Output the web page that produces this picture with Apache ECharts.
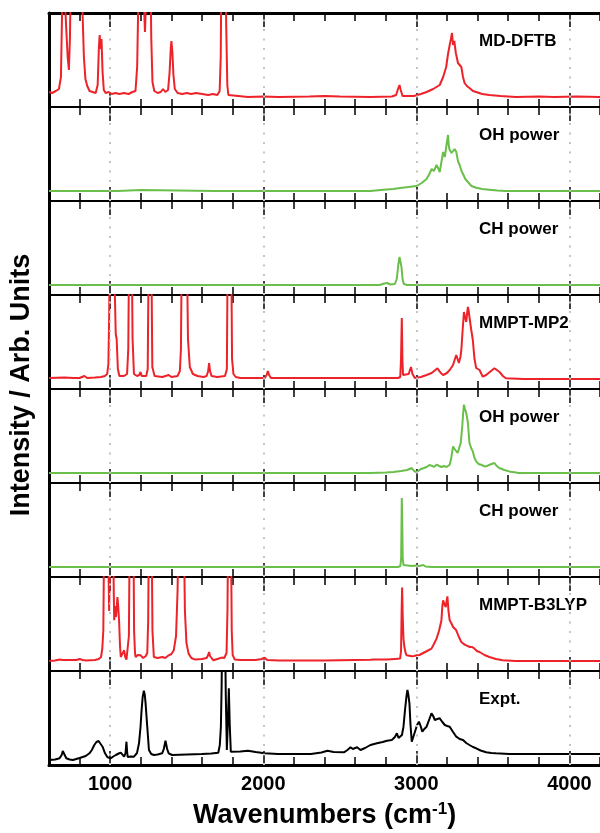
<!DOCTYPE html>
<html>
<head>
<meta charset="utf-8">
<script src="https://cdn.jsdelivr.net/npm/echarts@6/dist/echarts.min.js"></script>
<style>
  html, body { margin: 0; padding: 0; background: #fff; }
  #chart { width: 600px; height: 833px; }
</style>
</head>
<body>
<div id="chart"></div>
<script>
// spectra as [wavenumber, intensity] pairs, intensity in arb. units (panel range -10..84)
const mdDftb = [[600,5],[620,4],[645,6],[665,8],[678,20],[686,90],[692,140],[702,140],[712,70],[722,40],[730,27],[737,60],[744,140],[760,140],[790,140],[812,140],[820,80],[828,40],[838,18],[850,11],[865,6],[885,5],[905,4],[918,12],[926,50],[931,62],[937,48],[943,58],[950,25],[958,7],[970,4],[990,5],[1010,3],[1035,4],[1060,3],[1090,4],[1120,3],[1145,5],[1165,6],[1176,30],[1184,100],[1190,140],[1212,140],[1220,95],[1227,65],[1235,100],[1242,140],[1262,140],[1268,60],[1276,15],[1288,6],[1310,4],[1330,5],[1345,8],[1360,5],[1378,7],[1388,25],[1396,50],[1400,56],[1406,45],[1413,22],[1422,8],[1440,4],[1470,3],[1500,4],[1530,3],[1560,4],[1600,3],[1640,2],[1670,3],[1700,2],[1715,6],[1722,40],[1727,140],[1752,140],[1758,70],[1765,12],[1772,2],[1780,0],[1900,0],[2000,0.5],[2100,0],[2300,0.5],[2400,1],[2500,0.5],[2700,0],[2840,0.5],[2868,2],[2880,8],[2890,12],[2898,7],[2910,1],[2950,1],[2983,1],[3030,3],[3067,5],[3110,8],[3153,12],[3175,20],[3195,30],[3207,43],[3218,52],[3226,58],[3233,64],[3240,52],[3248,56],[3258,44],[3272,34],[3285,32],[3294,30],[3305,20],[3315,14],[3330,11],[3347,9],[3370,6],[3391,5],[3430,3],[3477,2],[3550,1],[3650,0],[3800,0.5],[3900,0],[4050,0.5],[4200,0]]

const ohPower1 = [[600,0],[1050,0],[1199,1],[1210,0],[1680,0],[1690,1],[1700,0],[2700,0],[2786,1.3],[2850,2],[2894,3],[2950,4],[3002,5],[3035,8],[3067,12],[3085,17],[3100,22],[3115,20],[3132,26],[3145,22],[3153,19],[3165,30],[3175,39],[3186,34],[3197,46],[3207,56],[3212,45],[3218,41],[3230,38],[3240,37],[3250,42],[3261,39],[3272,30],[3283,26],[3295,20],[3305,17],[3320,12],[3337,9],[3360,5],[3391,3.3],[3430,2],[3477,1.3],[3530,0.5],[3585,0],[4200,0]]

const chPower1 = [[600,0],[2760,0],[2790,1.5],[2810,2],[2830,0.5],[2860,1],[2872,6],[2882,20],[2890,28],[2896,27],[2903,18],[2910,6],[2918,1],[2940,0],[4200,0]]

const mmptMp2 = [[600,1],[700,1.5],[760,1],[800,1],[831,3],[850,1],[900,1.5],[940,2],[965,3],[980,5],[988,15],[993,62],[998,140],[1006,140],[1010,90],[1015,140],[1026,140],[1031,80],[1036,45],[1042,40],[1050,10],[1060,3],[1090,3],[1110,5],[1118,30],[1124,140],[1140,140],[1146,40],[1155,5],[1175,3],[1190,4],[1198,7],[1206,3],[1235,3],[1245,10],[1252,140],[1268,140],[1275,12],[1290,3],[1340,2],[1382,4],[1400,2],[1440,3],[1455,8],[1462,30],[1468,140],[1500,140],[1508,40],[1520,12],[1540,5],[1570,3],[1610,2],[1630,3],[1640,8],[1646,16],[1652,8],[1662,3],[1700,2],[1750,3],[1762,10],[1768,140],[1790,140],[1796,20],[1805,5],[1820,2],[1850,1],[2010,1],[2022,4],[2030,8],[2038,4],[2050,1],[2200,1],[2500,1],[2880,1],[2895,2],[2900,20],[2905,61],[2909,20],[2913,4],[2925,3],[2950,5],[2965,12],[2975,5],[2990,1],[3002,0],[3030,2],[3067,4],[3100,6],[3138,10.7],[3160,6],[3175,4],[3200,6],[3218,9],[3240,14],[3252,20],[3261,24],[3278,16],[3288,22],[3294,29],[3303,50],[3311,67],[3318,62],[3326,57],[3332,66],[3337,72],[3342,68],[3347,62],[3358,50],[3369,39],[3380,20],[3391,11],[3413,9],[3434,2.3],[3456,4],[3480,7],[3496,9],[3510,10.7],[3526,9],[3542,7.3],[3565,3],[3585,0.7],[3700,0],[4200,0]]

const ohPower2 = [[600,0],[2700,0],[2800,0.5],[2851,1],[2900,2],[2940,3],[2970,5],[2985,2],[3002,0.7],[3030,4],[3050,5],[3067,6],[3085,8],[3100,7.3],[3115,6],[3132,8.3],[3150,7],[3164,6],[3180,7],[3197,6],[3210,7],[3218,8.3],[3228,15],[3240,26.6],[3250,24],[3261,23.3],[3270,20],[3278,18.3],[3290,30],[3300,46.6],[3306,60],[3311,68.3],[3318,64],[3326,60],[3332,55],[3337,50],[3347,30],[3358,25],[3369,21.6],[3380,15],[3391,11.6],[3407,9],[3423,8.3],[3440,7],[3456,6.6],[3475,8],[3492,9],[3510,10],[3525,7],[3542,5],[3575,3],[3607,1.6],[3671,0],[4200,0]]

const chPower2 = [[600,0],[2880,0],[2896,1],[2901,10],[2905,69],[2908,45],[2911,8],[2916,2],[2925,1],[2970,1],[3000,1.5],[3020,1],[3045,2],[3060,0.5],[3100,0],[4200,0]]

const mmptB3lyp = [[600,0],[640,0.5],[670,1.5],[680,2.4],[690,1],[740,1],[780,1],[800,2],[810,3.4],[820,1],[842,0.5],[900,1],[925,2],[940,4],[948,12],[955,30.7],[961,140],[983,140],[988,100],[993,50],[998,100],[1004,140],[1019,140],[1023,70],[1026,40.7],[1032,55],[1037,44],[1042,52],[1047,64],[1052,55],[1058,40],[1064,15],[1069,4],[1080,6],[1091,10.7],[1098,4],[1106,1.4],[1115,3],[1122,25],[1128,140],[1151,140],[1156,30],[1162,8],[1166,4],[1180,6],[1199,5.7],[1215,3],[1231,4.7],[1242,8],[1248,40],[1253,140],[1270,140],[1276,30],[1285,4],[1310,3],[1340,4],[1360,3],[1382,5.7],[1400,7],[1415,10.7],[1430,25],[1440,70],[1447,140],[1480,140],[1488,50],[1498,18],[1512,7.4],[1530,3],[1555,1.4],[1600,2],[1630,3],[1640,6],[1646,9],[1652,5],[1674,0.7],[1700,2],[1728,3.4],[1745,3],[1760,8],[1766,50],[1771,140],[1788,140],[1794,30],[1800,6],[1814,1.4],[1850,1],[1950,1],[1990,2],[2009,3.4],[2025,1],[2100,0.5],[2400,0.5],[2600,1],[2700,1.2],[2721,1.4],[2808,1.4],[2860,2],[2894,2.4],[2900,10],[2904,50],[2907,73.4],[2911,45],[2916,22],[2922,14],[2930,8],[2937,5.7],[2950,5],[2970,4.7],[2985,5],[3002,5.7],[3020,6],[3045,8],[3070,10],[3099,12.4],[3115,17],[3132,22.4],[3148,30],[3164,40.7],[3170,55],[3175,60.7],[3183,57],[3192,54],[3198,60],[3203,64.7],[3210,50],[3218,40.7],[3228,38],[3240,34],[3250,33],[3261,30.7],[3278,24],[3294,19],[3310,17],[3326,15.7],[3350,14],[3365,14],[3380,12.4],[3395,10],[3413,9],[3445,6],[3477,4],[3520,2],[3564,0.7],[3650,0],[4200,0]]

const expt = [[600,-5],[640,-4.5],[669,-3.3],[683,0],[690,4],[695,5.7],[702,2],[713,-3.3],[735,-4.5],[756,-5],[800,-3],[840,-1],[864,1.7],[880,5],[896,10],[910,13],[924,14],[937,12],[950,8.3],[965,2],[982,-2.3],[1004,-3.3],[1020,-1.5],[1037,0],[1055,1.5],[1069,2.3],[1080,0.5],[1091,-1.7],[1100,2],[1106,13.3],[1110,4],[1114,-2],[1135,-1.5],[1155,-1.7],[1175,2],[1188,11.7],[1198,28],[1205,45],[1212,58],[1220,64.3],[1226,60],[1231,51.7],[1242,28.3],[1253,5],[1268,1],[1285,0],[1310,0.5],[1339,1.7],[1350,6],[1361,14.3],[1372,6],[1382,1.7],[1404,0],[1500,0.5],[1600,1],[1660,1.5],[1706,2.3],[1716,10],[1723,28.3],[1728,70],[1732,140],[1749,140],[1755,60],[1762,5],[1768,30],[1775,66.7],[1781,30],[1788,3.3],[1800,3],[1850,3.5],[1900,4.3],[1950,3],[2009,1.7],[2095,1],[2200,1],[2311,1],[2380,2.5],[2419,4.3],[2460,3],[2527,2.7],[2550,5],[2570,7.7],[2585,6],[2596,6.7],[2613,7.7],[2635,5],[2665,7],[2700,10],[2743,11.7],[2780,13],[2808,14.3],[2840,15],[2860,18],[2873,21.7],[2884,17],[2894,15],[2906,20],[2916,28.3],[2926,45],[2935,58],[2942,65],[2948,60],[2955,51.7],[2962,30],[2970,13.3],[2980,18],[2991,23.3],[3005,30],[3017,33.3],[3028,29],[3039,23.3],[3052,26],[3067,28.3],[3083,35],[3099,41.7],[3110,39],[3121,35],[3137,36],[3153,36.7],[3170,33],[3186,30],[3202,29],[3218,28.3],[3240,23],[3261,18.3],[3283,16],[3305,15],[3326,12],[3347,10],[3370,8],[3391,6.7],[3420,4.5],[3456,2.7],[3490,2],[3520,1.7],[3607,1],[3800,1],[4200,1]]

const panelLabels = ['MD-DFTB', 'OH power', 'CH power', 'MMPT-MP2', 'OH power', 'CH power', 'MMPT-B3LYP', 'Expt.']
const spectra = [mdDftb, ohPower1, chPower1, mmptMp2, ohPower2, chPower2, mmptB3lyp, expt]
const majorTicks = [1000, 2000, 3000, 4000]

const RED = '#ee2229', GREEN = '#6abf4b', BLACK = '#000'
const colors = [RED, GREEN, GREEN, RED, GREEN, GREEN, RED, BLACK]
const FONT = '"Liberation Sans", Arial, Helvetica, sans-serif'

const PLOT_LEFT = 49, PLOT_TOP = 13, PANEL_H = 94, PLOT_W = 555

let grid = [], xAxis = [], yAxis = [], series = [], graphic = []

spectra.forEach((data, i) => {
  const top = PLOT_TOP + PANEL_H * i
  const first = i === 0
  const last = i === spectra.length - 1
  grid.push({left: PLOT_LEFT, top: top, width: PLOT_W, height: PANEL_H})

  const base = {
    gridIndex: i,
    type: 'value',
    min: 600,
    max: 4200,
    splitLine: {show: false},
    axisLabel: {show: false}
  }
  const tickStyle = {color: '#000', width: 1.5}
  // minor ticks, every 200
  xAxis.push(Object.assign({}, base, {
    position: 'bottom',
    interval: 200,
    axisLine: {show: true, onZero: false, lineStyle: {color: '#000', width: last ? 3 : 2}},
    axisTick: {inside: true, length: 8, lineStyle: tickStyle}
  }))
  xAxis.push(Object.assign({}, base, {
    position: 'top',
    interval: 200,
    axisLine: {show: true, onZero: false, lineStyle: {color: '#000', width: first ? 3 : 2}},
    axisTick: {inside: true, length: 8, lineStyle: tickStyle}
  }))
  // major ticks at the thousands
  xAxis.push(Object.assign({}, base, {
    position: 'bottom',
    axisLine: {show: false, onZero: false},
    axisTick: {inside: true, length: 14, customValues: majorTicks, lineStyle: tickStyle},
    axisLabel: last ? {
      show: true,
      customValues: majorTicks,
      formatter: v => String(v),
      margin: 9,
      color: '#000',
      fontSize: 20,
      fontWeight: 'bold',
      fontFamily: FONT
    } : {show: false}
  }))
  xAxis.push(Object.assign({}, base, {
    position: 'top',
    axisLine: {show: false, onZero: false},
    axisTick: {inside: true, length: 14, customValues: majorTicks, lineStyle: tickStyle}
  }))

  yAxis.push({
    gridIndex: i,
    type: 'value',
    min: -10,
    max: 84,
    axisLine: {show: true, onZero: false, lineStyle: {color: '#000', width: 3}},
    axisTick: {show: false},
    axisLabel: {show: false},
    splitLine: {show: false}
  })

  series.push({
    type: 'line',
    xAxisIndex: 4 * i,
    yAxisIndex: i,
    data: data,
    symbol: 'none',
    showSymbol: false,
    clip: true,
    lineStyle: {color: colors[i], width: 2},
    markLine: {
      silent: true,
      symbol: ['none', 'none'],
      label: {show: false},
      lineStyle: {color: '#c4c4c4', type: [2, 7.5], width: 2},
      data: majorTicks.map(v => ({xAxis: v}))
    }
  })

  graphic.push({
    type: 'text',
    x: 479,
    y: top + 28,
    style: {
      text: panelLabels[i],
      font: 'bold 17px ' + FONT,
      fill: '#000',
      align: 'left',
      verticalAlign: 'middle',
      textAlign: 'left',
      textVerticalAlign: 'middle'
    }
  })
})

graphic.push({
  type: 'text',
  x: 22,
  y: 385,
  rotation: Math.PI / 2,
  style: {
    text: 'Intensity / Arb. Units',
    font: 'bold 27px ' + FONT,
    fill: '#000',
    align: 'center',
    verticalAlign: 'middle',
    textAlign: 'center',
    textVerticalAlign: 'middle'
  }
})

let myChart = echarts.init(document.getElementById('chart'))
myChart.setOption({
  animation: false,
  backgroundColor: '#fff',
  title: {
    text: '{a|Wavenumbers (cm}{s|-1}{a|)}',
    left: 193,
    top: 801,
    padding: 0,
    textStyle: {
      rich: {
        a: {fontSize: 27, fontWeight: 'bold', fontFamily: FONT, color: '#000', lineHeight: 30},
        s: {fontSize: 17, fontWeight: 'bold', fontFamily: FONT, color: '#000', lineHeight: 14, verticalAlign: 'top'}
      }
    }
  },
  grid: grid,
  xAxis: xAxis,
  yAxis: yAxis,
  series: series,
  graphic: graphic
})
</script>
</body>
</html>
